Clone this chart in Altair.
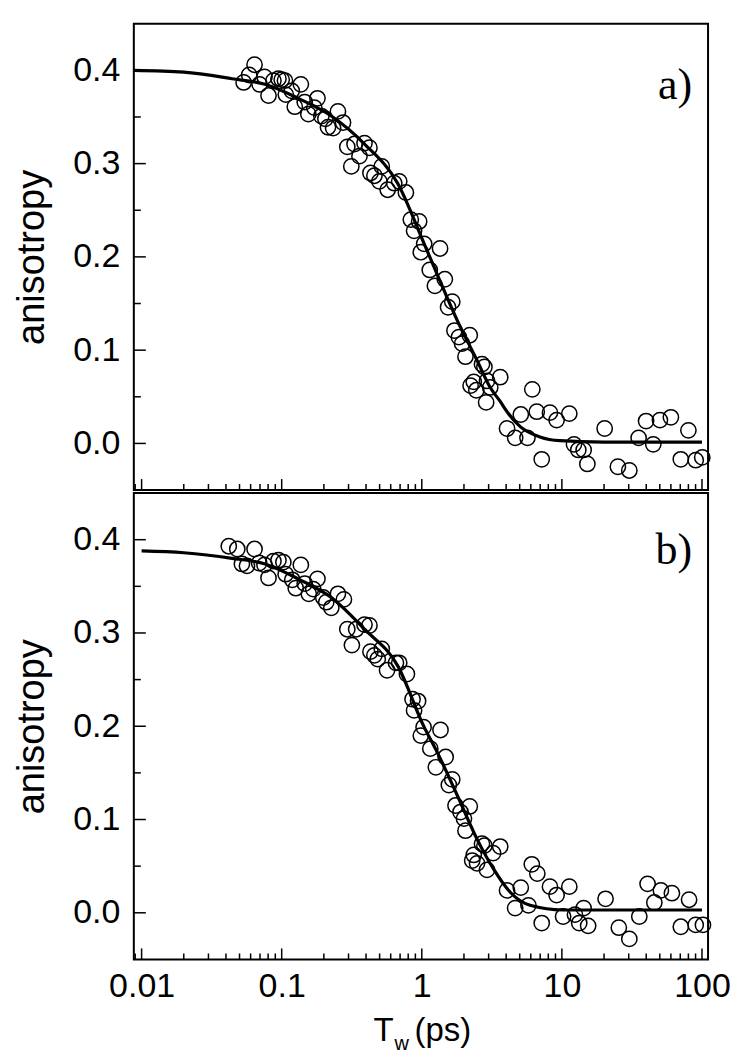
import altair as alt
import pandas as pd

# ---------------- data ----------------
# panel a) measured anisotropy
xa = [0.0535, 0.064, 0.0586, 0.0695, 0.0754, 0.0805, 0.0873, 0.0948, 0.100, 0.1055,
      0.107, 0.118, 0.137, 0.124, 0.146, 0.155, 0.171, 0.180, 0.192, 0.205,
      0.214, 0.233, 0.252, 0.274, 0.294, 0.314, 0.331, 0.359, 0.390, 0.423,
      0.430, 0.459, 0.498, 0.518, 0.571, 0.636, 0.690, 0.770, 0.835, 0.881,
      0.957, 1.04, 0.984, 1.35, 1.14, 1.46, 1.24, 1.65, 1.54, 1.71,
      1.84, 2.20, 1.94, 2.05, 2.69, 2.80, 2.35, 2.23, 2.45, 2.92,
      3.08, 3.63, 2.88, 6.15, 5.09, 6.62, 8.22, 9.17, 11.3, 4.06,
      4.64, 5.68, 7.18, 12.2, 13.1, 14.3, 15.2, 20.2, 25.1, 30.3,
      35.3, 39.9, 44.9, 50.1, 60.0, 70.6, 80.0, 90.2, 100.5]
ya = [0.387, 0.406, 0.395, 0.385, 0.393, 0.373, 0.389, 0.391, 0.390, 0.389,
      0.374, 0.378, 0.385, 0.361, 0.366, 0.353, 0.360, 0.370, 0.351, 0.348,
      0.339, 0.338, 0.356, 0.344, 0.318, 0.297, 0.321, 0.308, 0.322, 0.317,
      0.290, 0.287, 0.281, 0.297, 0.272, 0.279, 0.281, 0.269, 0.240, 0.228,
      0.238, 0.214, 0.205, 0.209, 0.186, 0.176, 0.169, 0.152, 0.146, 0.121,
      0.114, 0.116, 0.107, 0.093, 0.085, 0.082, 0.066, 0.062, 0.057, 0.067,
      0.060, 0.071, 0.044, 0.058, 0.031, 0.034, 0.033, 0.025, 0.032, 0.016,
      0.006, 0.006, -0.017, -0.001, -0.007, -0.007, -0.022, 0.016, -0.025, -0.029,
      0.006, 0.024, -0.001, 0.025, 0.028, -0.017, 0.014, -0.018, -0.015]
# panel a) fitted curve
xa_fit = [0.0088, 0.02, 0.0442, 0.0762, 0.131, 0.226, 0.39, 0.672, 1.04, 1.29,
          1.79, 2.48, 3.08, 3.63, 4.06, 5.04, 6.98, 9.68, 20, 50, 100]
ya_fit = [0.400, 0.398, 0.391, 0.385, 0.370, 0.351, 0.321, 0.279, 0.214, 0.181,
          0.132, 0.089, 0.060, 0.045, 0.034, 0.018, 0.007, 0.003, 0.0015, 0.0014, 0.0014]

# panel b) measured anisotropy
xb = [0.0419, 0.0482, 0.052, 0.0565, 0.064, 0.069, 0.0754, 0.0805, 0.0873, 0.0948,
      0.1028, 0.1067, 0.119, 0.137, 0.126, 0.146, 0.156, 0.168, 0.180, 0.198,
      0.208, 0.226, 0.252, 0.278, 0.294, 0.317, 0.340, 0.390, 0.423, 0.430,
      0.459, 0.485, 0.518, 0.565, 0.654, 0.690, 0.783, 0.859, 0.941, 0.881,
      1.03, 0.984, 1.36, 1.15, 1.48, 1.26, 1.65, 1.56, 1.74, 1.89,
      2.20, 2.00, 2.05, 2.69, 2.80, 2.35, 2.29, 2.48, 2.92, 3.23,
      3.63, 6.10, 6.68, 4.06, 5.09, 4.64, 5.77, 8.22, 9.17, 11.3,
      7.18, 10.2, 12.4, 14.3, 13.3, 15.4, 20.5, 25.5, 30.3, 35.7,
      40.9, 45.7, 50.9, 61.0, 70.6, 80.9, 90.2, 101.6]
yb = [0.393, 0.390, 0.374, 0.372, 0.390, 0.375, 0.373, 0.359, 0.377, 0.378,
      0.376, 0.363, 0.357, 0.373, 0.348, 0.353, 0.342, 0.347, 0.358, 0.338,
      0.333, 0.327, 0.342, 0.336, 0.304, 0.287, 0.304, 0.309, 0.308, 0.280,
      0.276, 0.272, 0.283, 0.260, 0.268, 0.268, 0.256, 0.229, 0.227, 0.217,
      0.199, 0.190, 0.196, 0.176, 0.167, 0.156, 0.143, 0.137, 0.115, 0.108,
      0.114, 0.101, 0.088, 0.074, 0.072, 0.062, 0.056, 0.053, 0.046, 0.064,
      0.071, 0.052, 0.042, 0.024, 0.027, 0.005, 0.008, 0.028, 0.019, 0.028,
      -0.011, -0.004, -0.002, 0.005, -0.011, -0.014, 0.015, -0.016, -0.028, -0.004,
      0.031, 0.011, 0.024, 0.021, -0.015, 0.014, -0.013, -0.013]
# panel b) fitted curve
xb_fit = [0.01, 0.02, 0.0442, 0.0762, 0.131, 0.226, 0.39, 0.672, 1.04, 1.29,
          1.79, 2.48, 3.25, 4.28, 5.93, 10.2, 20, 50, 100]
yb_fit = [0.388, 0.386, 0.380, 0.374, 0.358, 0.338, 0.304, 0.265, 0.199, 0.172,
          0.126, 0.079, 0.047, 0.022, 0.008, 0.003, 0.003, 0.003, 0.003]

# axis ticks / labels
x_major = [0.01, 0.1, 1, 10, 100]
x_minor = [0.009,
           0.02, 0.03, 0.04, 0.05, 0.06, 0.07, 0.08, 0.09,
           0.2, 0.3, 0.4, 0.5, 0.6, 0.7, 0.8, 0.9,
           2, 3, 4, 5, 6, 7, 8, 9,
           20, 30, 40, 50, 60, 70, 80, 90]
y_major = [0.0, 0.1, 0.2, 0.3, 0.4]
y_minor = [0.05, 0.15, 0.25, 0.35]
x_domain = [0.0088, 110.5]
y_domain = [-0.05, 0.45]

W, H = 575, 467
FONT = "Liberation Sans"

xscale = alt.Scale(type="log", domain=x_domain)
yscale = alt.Scale(domain=y_domain)


def panel(xs, ys, xf, yf, tag, tag_y, bottom):
    if bottom:
        xaxis = alt.Axis(values=x_major, format="~g", ticks=False, domain=False,
                         grid=False, labelPadding=10, labelFlush=False,
                         labelOverlap=False, title=None)
    else:
        xaxis = None
    yaxis = alt.Axis(values=y_major, format=".1f", ticks=False, domain=False,
                     grid=False, labelPadding=14, title="anisotropy",
                     titlePadding=21)

    def X(f):
        return alt.X(f, scale=xscale, axis=xaxis)

    def Y(f):
        return alt.Y(f, scale=yscale, axis=yaxis)

    pts = alt.Chart(pd.DataFrame({"t": xs, "r": ys})).mark_point(
        shape="circle", filled=False, size=235, stroke="black",
        strokeWidth=1.5, opacity=1
    ).encode(x=X("t:Q"), y=Y("r:Q"))
    fit = alt.Chart(pd.DataFrame({"t": xf, "r": yf})).mark_line(
        color="black", strokeWidth=3.2, interpolate="monotone"
    ).encode(x=X("t:Q"), y=Y("r:Q"))

    xmaj = alt.Chart(pd.DataFrame({"t": x_major})).mark_rule(
        color="black", strokeWidth=1.5
    ).encode(x=X("t:Q"), y=alt.value(H), y2=alt.value(H - 11))
    xmin = alt.Chart(pd.DataFrame({"t": x_minor})).mark_rule(
        color="black", strokeWidth=1.5
    ).encode(x=X("t:Q"), y=alt.value(H), y2=alt.value(H - 6))
    ymaj = alt.Chart(pd.DataFrame({"v": y_major})).mark_rule(
        color="black", strokeWidth=1.5
    ).encode(y=Y("v:Q"), x=alt.value(0), x2=alt.value(12))
    ymin = alt.Chart(pd.DataFrame({"v": y_minor})).mark_rule(
        color="black", strokeWidth=1.5
    ).encode(y=Y("v:Q"), x=alt.value(0), x2=alt.value(7))

    lab = alt.Chart(pd.DataFrame({"s": [tag]})).mark_text(
        font="Liberation Serif", fontSize=44, align="right",
        baseline="alphabetic", color="black"
    ).encode(text="s:N", x=alt.value(W - 16), y=alt.value(tag_y))

    layers = [fit, pts, xmaj, xmin, ymaj, ymin, lab]
    if bottom:
        t1 = alt.Chart(pd.DataFrame({"s": ["T"]})).mark_text(
            font=FONT, fontSize=33, align="left", baseline="alphabetic", color="black"
        ).encode(text="s:N", x=alt.value(240), y=alt.value(549))
        t2 = alt.Chart(pd.DataFrame({"s": ["w"]})).mark_text(
            font=FONT, fontSize=20, align="left", baseline="alphabetic", color="black"
        ).encode(text="s:N", x=alt.value(261), y=alt.value(558))
        t3 = alt.Chart(pd.DataFrame({"s": ["(ps)"]})).mark_text(
            font=FONT, fontSize=33, align="left", baseline="alphabetic", color="black"
        ).encode(text="s:N", x=alt.value(281), y=alt.value(549))
        layers += [t1, t2, t3]
    return alt.layer(*layers).properties(width=W, height=H)


top = panel(xa, ya, xa_fit, ya_fit, "a)", 75, False)
bot = panel(xb, yb, xb_fit, yb_fit, "b)", 71, True)

chart = alt.vconcat(top, bot, spacing=0).properties(
    padding={"left": 4, "top": 14, "right": 10, "bottom": 10}
).configure_view(
    stroke="black", strokeWidth=2
).configure_axis(
    labelFont=FONT, labelFontSize=34, labelColor="black",
    titleFont=FONT, titleFontSize=38, titleColor="black", titleFontWeight="normal",
    grid=False
)

chart.save("out.html", embed_options={"renderer": "svg", "actions": False})
